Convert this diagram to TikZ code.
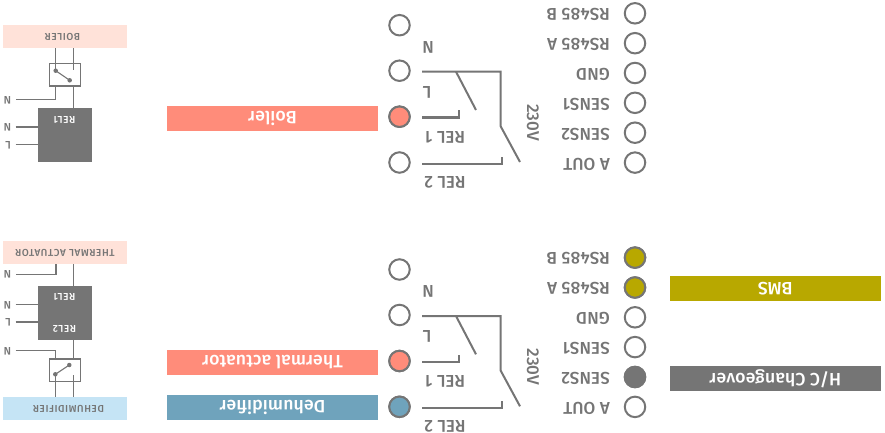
\documentclass[tikz,border=0pt]{standalone}
\usepackage{fontspec}
\setmainfont{Fira Sans}
\newfontfamily\termfont[LetterSpace=0.5]{Fira Sans Medium}
\newfontfamily\barfont[LetterSpace=0.5]{Fira Sans Medium}
\newfontfamily\minifont[LetterSpace=6]{Fira Sans Medium}
\definecolor{ink}{HTML}{757575}
\definecolor{salmon}{HTML}{FF8C7A}
\definecolor{steel}{HTML}{6FA3BC}
\definecolor{olive}{HTML}{B8A800}
\definecolor{blush}{HTML}{FFE2D9}
\definecolor{sky}{HTML}{C5E4F5}
\tikzset{
  x=1pt,y=-1pt,
  term/.style={circle,draw=ink,line width=2pt,minimum size=20.5pt,inner sep=0pt,fill=white},
  wire/.style={draw=ink,line width=2pt},
  thin wire/.style={draw=ink,line width=1.1pt},
  termlabel/.style={rotate=180,inner sep=0pt,text=ink,font=\termfont\fontsize{17.1}{19}\selectfont},
  bar/.style={minimum width=211pt,minimum height=25pt,inner sep=0pt,text=white,rotate=180,font=\barfont\fontsize{17.8}{20}\selectfont},
  header/.style={minimum width=124pt,minimum height=23pt,inner sep=0pt,text=ink,rotate=180,font=\minifont\fontsize{10}{11}\selectfont},
  relay/.style={fill=ink,minimum width=53.7pt,minimum height=53.7pt,inner sep=0pt},
  relaytext/.style={rotate=180,inner sep=0pt,text=white,font=\minifont\fontsize{10}{11}\selectfont},
  switchbox/.style={draw=ink,line width=1.1pt,minimum width=30.5pt,minimum height=22.7pt,inner sep=0pt},
  dotnode/.style={circle,fill=ink,minimum size=4.5pt,inner sep=0pt},
  mini/.style={rotate=180,inner sep=0pt,text=ink,font=\minifont\fontsize{11}{12}\selectfont}
}
\begin{document}
\begin{tikzpicture}
\useasboundingbox (0,0) rectangle (885,433);

% terminal blocks, upper and lower
\foreach \pre/\dy in {t-/0,b-/244.3}{
\begin{scope}[shift={(0,\dy)},name prefix=\pre]
  \node[term] (l1) at (399.5,25.2) {};
  \node[term] (l2) at (399.5,70.7) {};
  \node[term] (l3) at (399.5,116.7) {};
  \node[term] (l4) at (399.5,162.5) {};
  \node[term] (r1) at (635,13.3) {};
  \node[term] (r2) at (635,43.2) {};
  \node[term] (r3) at (635,73) {};
  \node[term] (r4) at (635,102.8) {};
  \node[term] (r5) at (635,132.7) {};
  \node[term] (r6) at (635,162.6) {};
  \node[termlabel,anchor=west] (tr1) at (610,14.5) {RS485 B};
  \node[termlabel,anchor=west] (tr2) at (610,44.5) {RS485 A};
  \node[termlabel,anchor=west] (tr3) at (610,74.5) {GND};
  \node[termlabel,anchor=west] (tr4) at (610,104.3) {SENS1};
  \node[termlabel,anchor=west] (tr5) at (610,134.2) {SENS2};
  \node[termlabel,anchor=west] (tr6) at (610,164) {A OUT};
  \node[termlabel] (tn) at (428,47.5) {N};
  \node[termlabel] (tl) at (427,92.5) {L};
  \node[termlabel] (trel1) at (445,137.5) {REL 1};
  \node[termlabel] (trel2) at (445,182.5) {REL 2};
  \node[termlabel,rotate=90] (tv) at (533,122.7) {230V};
  \coordinate (na) at (422,71.7);
  \coordinate (nb) at (500.5,71.7);
  \coordinate (nc) at (500.5,126);
  \coordinate (nd) at (520,162);
  \coordinate (ba) at (456,71.7);
  \coordinate (bb) at (476,110);
  \coordinate (ca) at (422,117.5);
  \coordinate (cb) at (459,117.5);
  \coordinate (cc) at (459,110.5);
  \coordinate (da) at (422,163.5);
  \coordinate (db) at (501.5,163.5);
  \coordinate (dc) at (501.5,156.5);
  \draw[wire] (na) -- (nb) -- (nc) -- (nd);
  \draw[wire] (ba) -- (bb);
  \draw[wire] (ca) -- (cb) -- (cc);
  \draw[wire] (da) -- (db) -- (dc);
\end{scope}}

% coloured terminals and bars
\node[term,fill=salmon] at (t-l3) {};
\node[term,fill=salmon] at (b-l3) {};
\node[term,fill=steel] at (b-l4) {};
\node[term,fill=olive] at (b-r1) {};
\node[term,fill=olive] at (b-r2) {};
\node[term,fill=ink] at (b-r5) {};
\node[bar,fill=salmon] (boiler) at (272.5,118.5) {Boiler};
\node[bar,fill=salmon] (thermal) at (272.5,362.3) {Thermal actuator};
\node[bar,fill=steel] (dehum) at (272.5,407.5) {Dehumidifier};
\node[bar,fill=olive] (bms) at (775.3,288.3) {BMS};
\node[bar,fill=ink] (hc) at (775.3,378.5) {H/C Changeover};

% upper schematic
\node[header,fill=blush] (h1) at (65,36.5) {\hspace*{5pt}BOILER};
\node[switchbox] (s1) at (65,74.7) {};
\node[dotnode] (s1a) at (55.7,70.7) {};
\node[dotnode] (s1b) at (69.7,80.3) {};
\node[relay] (q1) at (64.8,134.8) {};
\node[relaytext] (q1t) at (64.5,120) {REL1};
\node[mini] (m1) at (7.5,100) {N};
\node[mini] (m2) at (7.5,127) {N};
\node[mini] (m3) at (8,145) {L};
\coordinate (m1e) at (15.5,99.3);
\coordinate (m2e) at (15.5,127);
\coordinate (m3e) at (15.5,144.5);
\draw[thin wire] (s1a.center) -- (s1b.center);
\draw[thin wire] (s1a.center) -- (s1a |- h1.north);
\draw[thin wire] (73.5,70) -- (73.5,48);
\draw[thin wire] (s1.south -| s1a) |- (m1e);
\draw[thin wire] (73.5,86) -- (73.5,108);
\draw[thin wire] (m2e) -- (m2e -| q1.west);
\draw[thin wire] (m3e) -- (m3e -| q1.west);

% lower schematic
\node[header,fill=blush] (h2) at (65,252.5) {THERMAL ACTUATOR};
\node[relay] (q2) at (64.8,312.8) {};
\node[relaytext] (q2a) at (64.5,296.5) {REL1};
\node[relaytext] (q2b) at (64.5,328.5) {REL2};
\node[switchbox] (s2) at (65,370.3) {};
\node[dotnode] (s2a) at (55.3,374.3) {};
\node[dotnode] (s2b) at (69.3,365) {};
\node[header,fill=sky] (h3) at (65,408.5) {DEHUMIDIFIER\hspace*{7pt}};
\node[mini] (m4) at (7.5,274.5) {N};
\node[mini] (m5) at (7.5,305) {N};
\node[mini] (m6) at (8,322) {L};
\node[mini] (m7) at (7.5,351) {N};
\coordinate (m4e) at (15.5,274.3);
\coordinate (m5e) at (15.5,304.3);
\coordinate (m6e) at (15.5,322);
\coordinate (m7e) at (15.5,350.3);
\draw[thin wire,line width=1.4pt] (56,264) |- (m4e);
\draw[thin wire,line width=1.6pt] (73.5,264) -- (73.5,286);
\draw[thin wire] (m5e) -- (m5e -| q2.west);
\draw[thin wire] (m6e) -- (m6e -| q2.west);
\draw[thin wire] (m7e) -| (s2.north -| s2a);
\draw[thin wire] (73.5,339.7) -- (73.5,359);
\draw[thin wire] (s2a.center) -- (s2b.center);
\draw[thin wire] (s2a.center) -- (s2a |- h3.south);
\draw[thin wire] (73.5,375) -- (73.5,397.3);
\end{tikzpicture}
\end{document}
